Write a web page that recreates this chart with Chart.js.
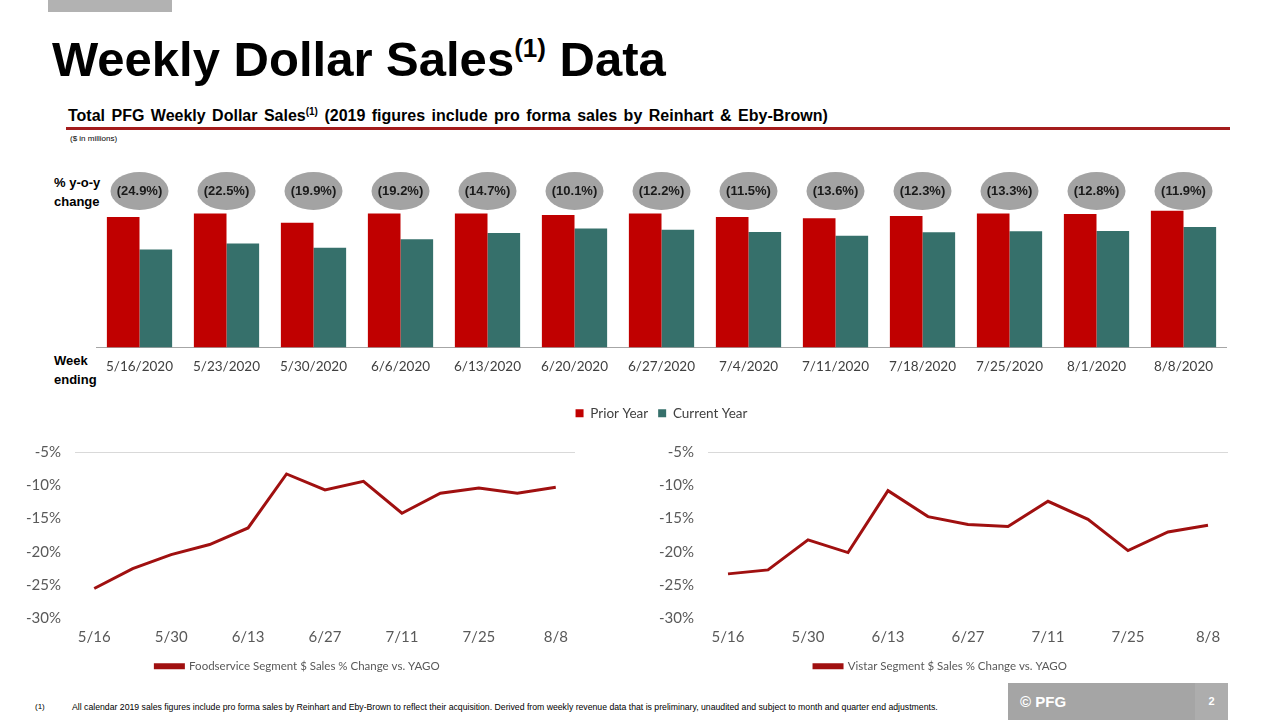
<!DOCTYPE html>
<html>
<head>
<meta charset="utf-8">
<script src="https://cdn.jsdelivr.net/npm/chart.js@4.4.1/dist/chart.umd.min.js"></script>
<style>
  html, body { margin: 0; padding: 0; background: #fff; }
  body { width: 1280px; height: 720px; position: relative; overflow: hidden; font-family: "Liberation Sans", Arial, sans-serif; }
  .abs { position: absolute; }
  #topbar { left: 48px; top: 0; width: 124px; height: 12px; background: #b2b2b2; }
  #title { left: 52px; top: 35px; font-weight: bold; font-size: 49px; line-height: 49px; color: #000; white-space: nowrap; }
  #title sup { font-size: 26px; vertical-align: 19px; line-height: 0; }
  #subtitle { left: 68px; top: 107px; font-weight: bold; font-size: 16px; line-height: 17px; color: #000; white-space: nowrap; word-spacing: 2px; }
  #subtitle sup { font-size: 10px; vertical-align: 6px; line-height: 0; }
  #redline { left: 66px; top: 127px; width: 1164px; height: 3px; background: #a41c1c; }
  #units { left: 70px; top: 134px; font-size: 8px; color: #000; }
  .side { left: 54px; font-weight: bold; font-size: 13px; line-height: 19px; color: #000; }
  #barWrap { left: 96px; top: 165px; width: 1131px; height: 265px; }
  #lineL { left: 20px; top: 429px; width: 560px; height: 253px; }
  #lineR { left: 653px; top: 429px; width: 580px; height: 253px; }
  #fn1 { left: 35px; top: 702px; font-size: 8px; color: #000; }
  #fn2 { left: 72px; top: 702px; font-size: 8.7px; color: #000; white-space: nowrap; }
  #box { left: 1008px; top: 683px; width: 187px; height: 37px; background: #a5a5a5; color: #fff; font-weight: bold; font-size: 15px; line-height: 37px; }
  #box span { margin-left: 12px; }
  #pg { left: 1195px; top: 683px; width: 33px; height: 37px; background: #adadad; color: #fff; font-weight: bold; font-size: 11px; line-height: 37px; text-align: center; }
</style>
</head>
<body>
<div id="topbar" class="abs"></div>
<div id="title" class="abs">Weekly Dollar Sales<sup>(1)</sup> Data</div>
<div id="subtitle" class="abs">Total PFG Weekly Dollar Sales<sup>(1)</sup> (2019 figures include pro forma sales by Reinhart &amp; Eby-Brown)</div>
<div id="redline" class="abs"></div>
<div id="units" class="abs">($ in millions)</div>
<div class="abs side" style="top:173px;">% y-o-y<br>change</div>
<div class="abs side" style="top:351px;">Week<br>ending</div>

<div id="barWrap" class="abs"><canvas id="barChart"></canvas></div>
<div id="lineL" class="abs"><canvas id="foodChart"></canvas></div>
<div id="lineR" class="abs"><canvas id="vistarChart"></canvas></div>

<div id="fn1" class="abs">(1)</div>
<div id="fn2" class="abs">All calendar 2019 sales figures include pro forma sales by Reinhart and Eby-Brown to reflect their acquisition. Derived from weekly revenue data that is preliminary, unaudited and subject to month and quarter end adjustments.</div>
<div id="box" class="abs"><span>© PFG</span></div>
<div id="pg" class="abs">2</div>

<script>
// week ending dates
const weeks = ['5/16/2020', '5/23/2020', '5/30/2020', '6/6/2020', '6/13/2020', '6/20/2020', '6/27/2020',
               '7/4/2020', '7/11/2020', '7/18/2020', '7/25/2020', '8/1/2020', '8/8/2020'];
const shortWeeks = ['5/16', '5/23', '5/30', '6/6', '6/13', '6/20', '6/27', '7/4', '7/11', '7/18', '7/25', '8/1', '8/8'];

// weekly dollar sales ($ in millions)
const priorYear   = [646, 663, 617, 663, 663, 655, 663, 645, 640, 650, 663, 661, 677];
const currentYear = [485, 514, 494, 536, 566, 589, 582, 571, 553, 570, 575, 576, 596];
const yoyLabels   = ['(24.9%)', '(22.5%)', '(19.9%)', '(19.2%)', '(14.7%)', '(10.1%)', '(12.2%)',
                     '(11.5%)', '(13.6%)', '(12.3%)', '(13.3%)', '(12.8%)', '(11.9%)'];

// segment % change vs. YAGO
const foodservice = [-25.5, -22.5, -20.4, -18.9, -16.4, -8.3, -10.7, -9.4, -14.2, -11.2, -10.4, -11.2, -10.3];
const vistar      = [-23.3, -22.7, -18.2, -20.1, -10.8, -14.7, -15.9, -16.2, -12.4, -15.1, -19.8, -17.0, -16.0];

const RED = '#c00000';
const TEAL = '#36706b';
const LINE_RED = '#a01010';
const GRAY_TXT = '#595959';

// grey ellipses with the y-o-y change above each week
const yoyBubbles = {
    id: 'yoyBubbles',
    afterDatasetsDraw(chart) {
        const ctx = chart.ctx;
        const x = chart.scales.x;
        const cy = chart.chartArea.top - 15;
        ctx.save();
        yoyLabels.forEach((lbl, i) => {
            const cx = x.getPixelForValue(i);
            ctx.beginPath();
            ctx.ellipse(cx, cy, 29, 19, 0, 0, Math.PI * 2);
            ctx.fillStyle = '#a3a3a3';
            ctx.fill();
            ctx.fillStyle = '#1a1a1a';
            ctx.font = 'bold 13px "Liberation Sans Narrow", "Liberation Sans", Arial, sans-serif';
            ctx.textAlign = 'center';
            ctx.textBaseline = 'middle';
            ctx.fillText(lbl, cx, cy);
        });
        ctx.restore();
    }
};

new Chart(document.getElementById('barChart'), {
    type: 'bar',
    data: {
        labels: weeks,
        datasets: [
            { label: 'Prior Year', data: priorYear, backgroundColor: RED },
            { label: 'Current Year', data: currentYear, backgroundColor: TEAL }
        ]
    },
    options: {
        responsive: true,
        maintainAspectRatio: false,
        animation: false,
        categoryPercentage: 0.75,
        barPercentage: 1.0,
        layout: { padding: { top: 41 } },
        scales: {
            x: {
                grid: { display: false },
                border: { display: true, color: '#a6a6a6', width: 1 },
                ticks: { color: '#404040', font: { family: 'Lato', size: 13.5 }, padding: 3, maxRotation: 0 },
                afterFit: (scale) => { scale.height = 49; }
            },
            y: { display: false, min: 0, max: 700 }
        },
        plugins: {
            legend: {
                position: 'bottom',
                labels: { boxWidth: 8, boxHeight: 8, color: '#404040', font: { family: 'Lato', size: 13.5 }, padding: 10 }
            },
            tooltip: { enabled: false }
        }
    },
    plugins: [yoyBubbles]
});

function lineChart(id, series, name) {
    return new Chart(document.getElementById(id), {
        type: 'line',
        data: {
            labels: shortWeeks,
            datasets: [{
                label: name,
                data: series,
                borderColor: LINE_RED,
                backgroundColor: LINE_RED,
                borderWidth: 3,
                pointRadius: 0,
                tension: 0
            }]
        },
        options: {
            responsive: true,
            maintainAspectRatio: false,
            animation: false,
            layout: { padding: { top: 0, right: 5 } },
            scales: {
                x: {
                    offset: true,
                    grid: { display: false },
                    border: { display: false },
                    ticks: {
                        autoSkip: false, maxRotation: 0, padding: 2,
                        color: GRAY_TXT, font: { family: 'Lato', size: 15 },
                        callback: (v, i) => (i % 2 === 0 ? shortWeeks[i] : '')
                    },
                    afterFit: (scale) => { scale.height = 32; }
                },
                y: {
                    min: -30, max: -5,
                    border: { display: false },
                    grid: {
                        drawTicks: false,
                        color: (c) => (c.tick && c.tick.value === -5 ? '#d9d9d9' : 'rgba(0,0,0,0)')
                    },
                    ticks: {
                        stepSize: 5, padding: 14, color: GRAY_TXT, font: { family: 'Lato', size: 15 },
                        callback: (v) => v + '%'
                    },
                    afterFit: (scale) => { scale.width = 55; }
                }
            },
            plugins: {
                legend: {
                    position: 'bottom',
                    labels: {
                        boxWidth: 28, boxHeight: 3, color: GRAY_TXT,
                        font: { family: 'Lato', size: 11.5 }, padding: 10
                    }
                },
                tooltip: { enabled: false }
            }
        }
    });
}

lineChart('foodChart', foodservice, 'Foodservice Segment $ Sales % Change vs. YAGO');
lineChart('vistarChart', vistar, 'Vistar Segment $ Sales % Change vs. YAGO');
</script>
</body>
</html>
